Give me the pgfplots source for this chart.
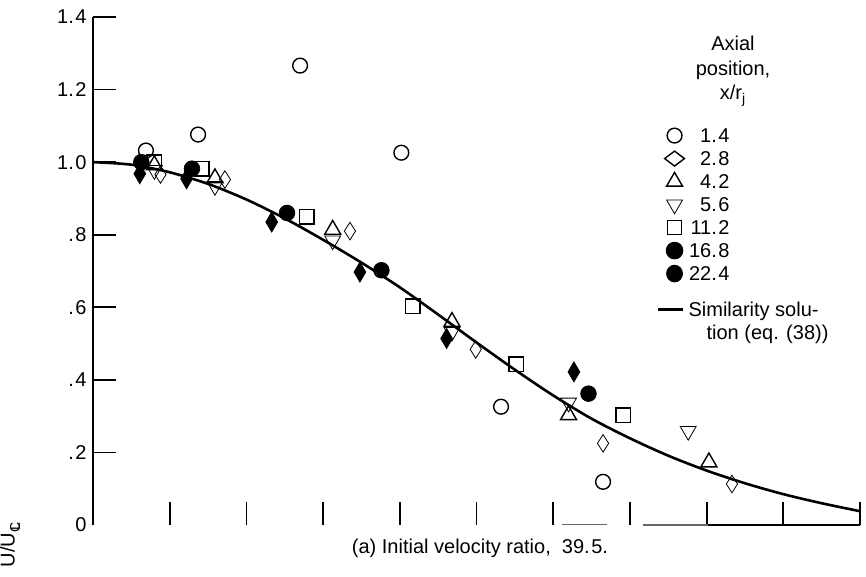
\documentclass[border=0pt]{standalone}
\usepackage{pgfplots}
\pgfplotsset{compat=1.18}
\usepackage{fontspec}
\setmainfont{Liberation Sans}

% centre-line symbol used in the subscript of U/U_cl
\newcommand{\centreline}{\ooalign{C\cr\hfil\kern0.12em L\hfil}}

% short dash as legend image for the similarity curve
\pgfplotsset{simlegend/.style={legend image code/.code={\draw[##1] (0.5pt,-6.5pt) -- (13pt,-6.5pt);}}}

\begin{document}
\begin{tikzpicture}[font=\fontsize{10}{11.5}\selectfont]
\begin{axis}[
  scale only axis, width=383.5pt, height=254pt,
  xmin=0, xmax=10, ymin=0, ymax=1.4,
  axis x line*=bottom, axis y line*=left,
  x axis line style={draw=none},
  y axis line style={line width=1.1pt, -},
  xtick={1,2,3,4,5,6,7,8,9,10}, xticklabels={},
  ytick={0.2,0.4,0.6,0.8,1.0,1.2,1.4},
  yticklabels={.\kern0.8pt2,.\kern0.8pt4,.\kern0.8pt6,.\kern0.8pt8,1.\kern0.8pt0,1.\kern0.8pt2,1.\kern0.8pt4},
  extra y ticks={0}, extra y tick labels={0},
  extra y tick style={major tick length=0pt},
  tick align=inside, major tick length=11.5pt,
  every tick/.style={black, line width=0.9pt},
  yticklabel style={inner sep=3pt},
  clip=false,
  legend style={at={(rel axis cs:0.7353,0.790)}, anchor=north west,
    draw=none, fill=none, inner sep=0pt, row sep=0pt, column sep=0pt,
    nodes={inner xsep=3pt, inner ysep=0pt, text height=9pt, text depth=2.5pt}},
  legend cell align=left,
  openmark/.style={only marks, mark options={fill=white, line width=0.7pt}},
]
\coordinate (O) at (rel axis cs:0,0);

% similarity solution (eq. (38))
\addplot[line width=1.3pt, smooth, forget plot] table {
x     y
0.0   1.000
0.5   0.993
1.0   0.972
1.5   0.940
2.0   0.897
2.5   0.845
3.0   0.786
3.5   0.723
4.0   0.655
4.5   0.580
5.0   0.503
5.5   0.428
6.0   0.357
6.5   0.293
7.0   0.239
7.5   0.191
8.0   0.150
8.5   0.115
9.0   0.085
9.5   0.060
10.0  0.038
};

% x/r_j = 1.4
\addplot[openmark, mark=o, mark size=3.7pt] table {
x    y
0.69 1.032
1.37 1.076
2.70 1.266
4.02 1.026
5.32 0.326
6.65 0.119
};
\addlegendentry{\makebox[19.5pt][r]{1.\kern0.8pt4}}

% x/r_j = 2.8
\addplot[openmark, mark=diamond, mark size=4.4pt, mark options={xscale=0.85},
  legend image post style={mark options={fill=white, line width=0.7pt, xscale=1.5, yscale=0.85}}] table {
x    y
0.88 0.966
1.72 0.952
3.35 0.810
4.99 0.484
6.65 0.225
8.33 0.113
};
\addlegendentry{\makebox[19.5pt][r]{2.\kern0.8pt8}}

% x/r_j = 4.2
\addplot[openmark, mark=triangle, mark size=4.6pt] table {
x    y
0.80 0.992
1.59 0.956
3.125 0.814
4.68 0.560
6.20 0.303
8.03 0.173
};
\addlegendentry{\makebox[19.5pt][r]{4.\kern0.8pt2}}

% x/r_j = 5.6
\addplot[openmark, mark=triangle, mark size=4.6pt, mark options={rotate=180}] table {
x    y
0.80 0.978
1.59 0.934
3.125 0.784
4.68 0.532
6.20 0.337
7.76 0.259
};
\addlegendentry{\makebox[19.5pt][r]{5.\kern0.8pt6}}

% x/r_j = 11.2
\addplot[openmark, mark=square, mark size=3.6pt] table {
x    y
0.80 1.000
1.42 0.982
2.79 0.849
4.17 0.603
5.52 0.443
6.91 0.303
};
\addlegendentry{\makebox[19.5pt][r]{11.\kern0.8pt2}}

% x/r_j = 16.8
\addplot[only marks, mark=*, mark size=3.9pt, mark options={fill=black},
  legend image post style={mark size=4.2pt}] table {
x    y
0.63 1.000
1.29 0.982
2.53 0.860
3.76 0.702
6.46 0.362
};
\addlegendentry{\makebox[19.5pt][r]{16.\kern0.8pt8}}

% x/r_j = 22.4
\addplot[only marks, mark=diamond*, mark size=5pt, mark options={xscale=0.78, fill=black},
  legend image post style={mark=*, mark size=4.2pt, mark options={fill=black, xscale=0.95}}] table {
x    y
0.61 0.968
1.22 0.954
2.33 0.835
3.48 0.697
4.61 0.514
6.27 0.422
};
\addlegendentry{\makebox[19.5pt][r]{22.\kern0.8pt4}}

% entry for the similarity curve
\addlegendimage{line width=1.1pt, simlegend}
\addlegendentry{\raisebox{-6.5pt}{\hspace{-1pt}\begin{tabular}[t]{@{}l@{}}Similarity solu-\\\hspace{9pt}tion (eq. (38))\end{tabular}}}

% visible pieces of the baseline
\draw[line width=0.5pt, black!60] (axis cs:6.11,0) -- (axis cs:6.70,0);
\draw[line width=0.6pt, black!60] (axis cs:7.17,0) -- (axis cs:8.02,0);
\draw[line width=1pt] (axis cs:8.02,0) -- (axis cs:10,0);
\end{axis}

\node[anchor=north, align=center, inner sep=0pt, font=\fontsize{10}{12.25}\selectfont]
  at ([shift={(320pt,244.5pt)}]O) {Axial\\position,\\x/r\textsubscript{j}};
\node[rotate=90] at ([shift={(-41.5pt,-10pt)}]O) {U/U\raisebox{-0.5ex}{\scriptsize\centreline}};
\node at ([shift={(193.5pt,-11.5pt)}]O) {(a) Initial velocity ratio, \ 39.\kern0.8pt5.};

\pgfresetboundingbox
\path ([shift={(-46.5pt,-26pt)}]O) rectangle ([shift={(386.5pt,262.5pt)}]O);
\end{tikzpicture}
\end{document}
